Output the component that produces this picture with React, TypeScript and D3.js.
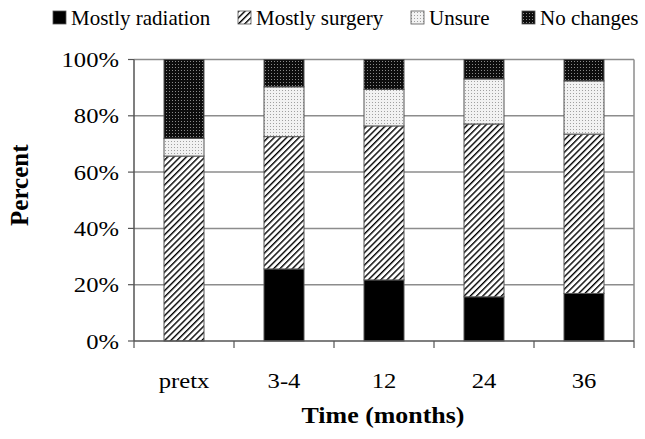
import React from "react";
import * as d3 from "d3";

const categories = ["pretx", "3-4", "12", "24", "36"];
const radiation = [0, 25.6, 21.7, 15.7, 16.9];
const surgery = [65.7, 47.0, 54.7, 61.4, 56.6];
const unsure = [6.3, 17.7, 13.0, 16.0, 18.9];
const noChanges = [28.0, 9.7, 10.6, 6.9, 7.6];
const seriesNames = ["Mostly radiation", "Mostly surgery", "Unsure", "No changes"];
const yTicks = [0, 20, 40, 60, 80, 100];

const W = 645;
const H = 439;
const left = 134;
const right = 634;
const top = 59.5;
const bottom = 341;
const FONT = "'Liberation Serif', 'Times New Roman', serif";
const fills = ["#000", "url(#hatch)", "url(#lightdots)", "url(#darkdots)"];

export default function App() {
  const x = d3.scaleBand<string>().domain(categories).range([left, right]).paddingInner(0.6).paddingOuter(0.3);
  const y = d3.scaleLinear().domain([0, 100]).range([bottom, top]);

  const rows = categories.map((c, i) => ({
    cat: c,
    s0: radiation[i],
    s1: surgery[i],
    s2: unsure[i],
    s3: noChanges[i],
  }));
  const stack = d3.stack<any>().keys(["s0", "s1", "s2", "s3"]);
  const layers = stack(rows);

  const boundaries = d3.range(categories.length + 1).map((i) => left + i * x.step());

  const legendItems = [
    { sx: 53, tx: 71 },
    { sx: 238, tx: 256 },
    { sx: 411, tx: 429 },
    { sx: 522, tx: 540 },
  ];

  return (
    <svg width={W} height={H} style={{ position: "absolute", left: 0, top: 0, background: "#fff" }}>
      <defs>
        <pattern id="hatch" patternUnits="userSpaceOnUse" width="4.4" height="4.4" patternTransform="rotate(45)">
          <rect width="4.4" height="4.4" fill="#fff" />
          <line x1="0" y1="0" x2="0" y2="4.4" stroke="#000" strokeWidth="2.8" />
        </pattern>
        <pattern id="lightdots" patternUnits="userSpaceOnUse" width="3" height="3">
          <rect width="3" height="3" fill="#f2f2f2" />
          <rect x="0" y="0" width="1" height="1" fill="#a0a0a0" />
        </pattern>
        <pattern id="darkdots" patternUnits="userSpaceOnUse" width="3" height="3">
          <rect width="3" height="3" fill="#0d0d0d" />
          <rect x="1" y="1" width="1" height="1" fill="#8a8a8a" />
        </pattern>
      </defs>

      {/* gridlines */}
      {yTicks.filter((t) => t > 0).map((t) => (
        <line key={t} x1={left} x2={right} y1={y(t)} y2={y(t)} stroke="#8c8c8c" strokeWidth={1.5} />
      ))}
      <line x1={right} x2={right} y1={top} y2={bottom} stroke="#8c8c8c" strokeWidth={1.5} />

      {/* bars */}
      {layers.map((layer, li) =>
        layer.map((d, i) => {
          const h = y(d[0]) - y(d[1]);
          if (h <= 0) return null;
          return (
            <rect
              key={`${li}-${i}`}
              x={x(categories[i])}
              y={y(d[1])}
              width={x.bandwidth()}
              height={h}
              fill={fills[li]}
              stroke="#555"
              strokeWidth={1}
            />
          );
        })
      )}

      {/* axes */}
      <line x1={left} x2={left} y1={top} y2={bottom} stroke="#555" strokeWidth={1.5} />
      <line x1={left} x2={right} y1={bottom} y2={bottom} stroke="#555" strokeWidth={1.5} />
      {yTicks.map((t) => (
        <line key={t} x1={left - 6} x2={left} y1={y(t)} y2={y(t)} stroke="#555" strokeWidth={1.2} />
      ))}
      {boundaries.map((bx, i) => (
        <line key={i} x1={bx} x2={bx} y1={bottom} y2={bottom + 7} stroke="#555" strokeWidth={1.2} />
      ))}

      {/* y tick labels */}
      {yTicks.map((t) => (
        <text
          key={t}
          transform={`translate(${left - 15},${y(t) + 7.5}) scale(1.12,1)`}
          textAnchor="end"
          fontFamily={FONT}
          fontSize={22}
          fill="#000"
        >
          {t}%
        </text>
      ))}

      {/* x tick labels */}
      {categories.map((c) => (
        <text
          key={c}
          transform={`translate(${(x(c) as number) + x.bandwidth() / 2},388) scale(1.12,1)`}
          textAnchor="middle"
          fontFamily={FONT}
          fontSize={22}
          fill="#000"
        >
          {c}
        </text>
      ))}

      {/* axis titles */}
      <text
        transform={`translate(${(left + right) / 2 - 1},423) scale(1.08,1)`}
        textAnchor="middle"
        fontFamily={FONT}
        fontSize={24}
        fontWeight="bold"
        fill="#000"
      >
        Time (months)
      </text>
      <text
        transform={`translate(28,${(top + bottom) / 2 - 15}) rotate(-90)`}
        textAnchor="middle"
        fontFamily={FONT}
        fontSize={25}
        fontWeight="bold"
        fill="#000"
      >
        Percent
      </text>

      {/* legend */}
      {seriesNames.map((name, i) => (
        <g key={name}>
          <rect x={legendItems[i].sx} y={11} width={13} height={13} fill={fills[i]} stroke="#555" strokeWidth={0.8} />
          <text
            transform={`translate(${legendItems[i].tx},24.5) scale(1.05,1)`}
            fontFamily={FONT}
            fontSize={20}
            fill="#000"
          >
            {name}
          </text>
        </g>
      ))}
    </svg>
  );
}
